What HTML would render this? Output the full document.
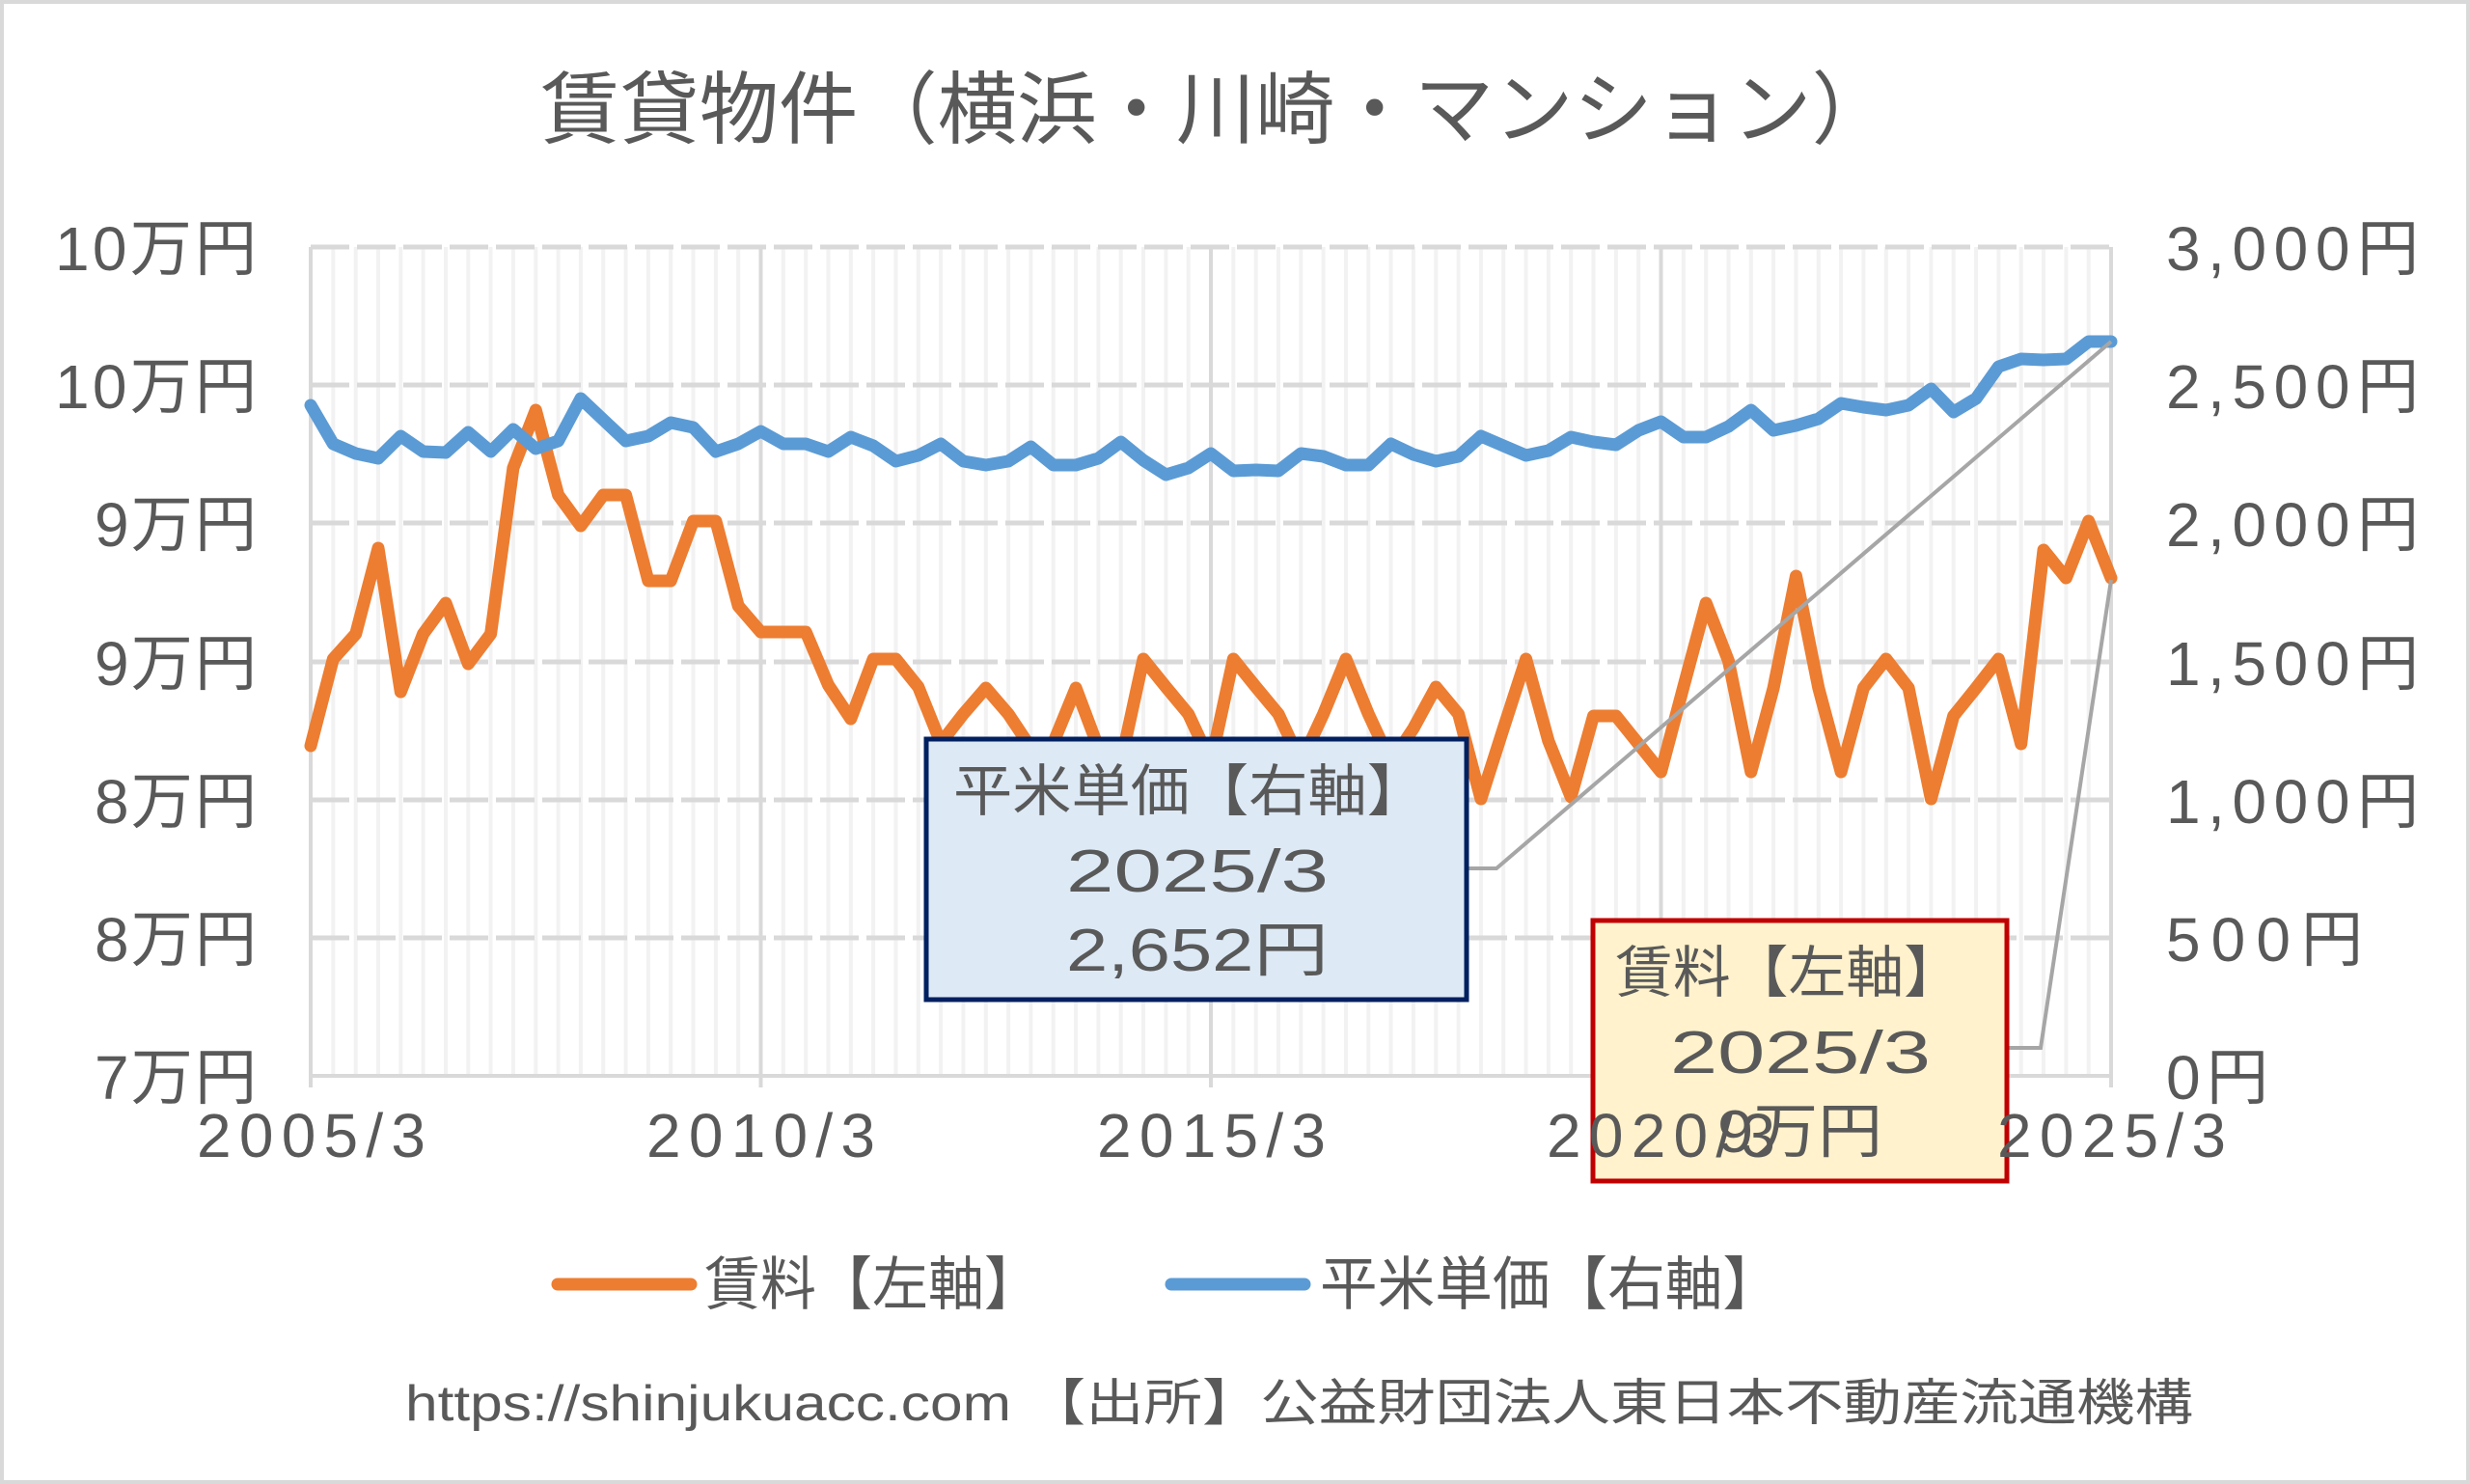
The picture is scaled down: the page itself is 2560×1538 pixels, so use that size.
<!DOCTYPE html>
<html><head><meta charset="utf-8"><style>
html,body{margin:0;padding:0;background:#fff}
svg{display:block}
text{font-family:"Liberation Sans","Noto Sans CJK JP",sans-serif;fill:#595959}
</style></head><body>
<svg width="2560" height="1538" viewBox="0 0 2560 1538" xmlns="http://www.w3.org/2000/svg">
<rect x="2" y="2" width="2556" height="1534" fill="#fff" stroke="#d9d9d9" stroke-width="4"/>
<text x="560" y="142" font-size="82" textLength="1400" lengthAdjust="spacingAndGlyphs">賃貸物件（横浜・川崎・マンション）</text>
<g stroke="#f2f2f2" stroke-width="4">
<path d="M345.3 256V1115M368.7 256V1115M392 256V1115M415.3 256V1115M438.6 256V1115M462 256V1115M485.3 256V1115M508.6 256V1115M531.9 256V1115M555.3 256V1115M578.6 256V1115M601.9 256V1115M625.2 256V1115M648.6 256V1115M671.9 256V1115M695.2 256V1115M718.5 256V1115M741.9 256V1115M765.2 256V1115M811.8 256V1115M835.2 256V1115M858.5 256V1115M881.8 256V1115M905.1 256V1115M928.5 256V1115M951.8 256V1115M975.1 256V1115M998.4 256V1115M1021.8 256V1115M1045.1 256V1115M1068.4 256V1115M1091.7 256V1115M1115.1 256V1115M1138.4 256V1115M1161.7 256V1115M1185 256V1115M1208.4 256V1115M1231.7 256V1115M1278.3 256V1115M1301.7 256V1115M1325 256V1115M1348.3 256V1115M1371.6 256V1115M1395 256V1115M1418.3 256V1115M1441.6 256V1115M1464.9 256V1115M1488.3 256V1115M1511.6 256V1115M1534.9 256V1115M1558.2 256V1115M1581.6 256V1115M1604.9 256V1115M1628.2 256V1115M1651.5 256V1115M1674.9 256V1115M1698.2 256V1115M1744.8 256V1115M1768.2 256V1115M1791.5 256V1115M1814.8 256V1115M1838.1 256V1115M1861.5 256V1115M1884.8 256V1115M1908.1 256V1115M1931.4 256V1115M1954.8 256V1115M1978.1 256V1115M2001.4 256V1115M2024.7 256V1115M2048.1 256V1115M2071.4 256V1115M2094.7 256V1115M2118 256V1115M2141.4 256V1115M2164.7 256V1115"/>
</g>
<g stroke="#d9d9d9" stroke-width="5" stroke-dasharray="40 8">
<path d="M322 256H2188M322 399H2188M322 542H2188M322 686H2188M322 829H2188M322 972H2188"/>
</g>
<g stroke="#d9d9d9" stroke-width="4">
<path d="M322 256V1127M788.5 256V1127M1255 256V1127M1721.5 256V1127M2188 256V1127M322 1115H2188"/>
</g>
<polyline fill="none" stroke="#ed7d31" stroke-width="13" stroke-linejoin="round" stroke-linecap="round" points="322,773 345.3,683 368.7,657 392,568 415.3,717 438.6,657 462,625 485.3,688 508.6,657 531.9,485 555.3,425 578.6,513 601.9,545 625.2,513 648.6,513 671.9,602 695.2,602 718.5,540 741.9,540 765.2,628 788.5,655 811.8,655 835.2,655 858.5,710 881.8,745 905.1,683 928.5,683 951.8,712 975.1,770 998.4,740 1021.8,713 1045.1,740 1068.4,775 1091.7,770 1115.1,713 1138.4,775 1161.7,790 1185,683 1208.4,712 1231.7,740 1255,790 1278.3,683 1301.7,712 1325,740 1348.3,790 1371.6,740 1395,683 1418.3,740 1441.6,790 1464.9,755 1488.3,712 1511.6,740 1534.9,828 1558.2,755 1581.6,683 1604.9,768 1628.2,826 1651.5,742 1674.9,742 1698.2,771 1721.5,800 1744.8,712 1768.2,625 1791.5,685 1814.8,800 1838.1,713 1861.5,597 1884.8,713 1908.1,800 1931.4,713 1954.8,683 1978.1,713 2001.4,828 2024.7,742 2048.1,713 2071.4,683 2094.7,771 2118,570 2141.4,599 2164.7,540 2188,599"/>
<polyline fill="none" stroke="#5b9bd5" stroke-width="13" stroke-linejoin="round" stroke-linecap="round" points="322,420 345.3,460 368.7,470 392,475 415.3,452 438.6,468 462,469 485.3,448 508.6,468 531.9,445 555.3,465 578.6,457 601.9,413 625.2,435 648.6,457 671.9,452 695.2,438 718.5,443 741.9,468 765.2,460 788.5,447 811.8,460 835.2,460 858.5,468 881.8,453 905.1,462 928.5,478 951.8,472 975.1,460 998.4,478 1021.8,482 1045.1,478 1068.4,463 1091.7,482 1115.1,482 1138.4,475 1161.7,458 1185,477 1208.4,492 1231.7,485 1255,470 1278.3,488 1301.7,487 1325,488 1348.3,470 1371.6,473 1395,482 1418.3,482 1441.6,460 1464.9,471 1488.3,478 1511.6,473 1534.9,452 1558.2,462 1581.6,472 1604.9,467 1628.2,453 1651.5,458 1674.9,461 1698.2,446 1721.5,437 1744.8,453 1768.2,453 1791.5,442 1814.8,425 1838.1,446 1861.5,441 1884.8,434 1908.1,418 1931.4,422 1954.8,425 1978.1,420 2001.4,403 2024.7,427 2048.1,413 2071.4,380 2094.7,372 2118,373 2141.4,372 2164.7,354 2188,354"/>
<polyline fill="none" stroke="#a6a6a6" stroke-width="4" points="1522,900 1551,900 2188,354"/>
<polyline fill="none" stroke="#a6a6a6" stroke-width="4" points="2082,1086 2115,1086 2188,601"/>
<rect x="960" y="766" width="560" height="270" fill="#dde9f5" stroke="#002060" stroke-width="5"/>
<text x="988" y="840" font-size="58" textLength="490" lengthAdjust="spacingAndGlyphs">平米単価【右軸】</text>
<text x="1105" y="924" font-size="62" textLength="272" lengthAdjust="spacingAndGlyphs">2025/3</text>
<text x="1105" y="1006" font-size="62" textLength="272" lengthAdjust="spacingAndGlyphs">2,652円</text>
<rect x="1651" y="954" width="429" height="270" fill="#fff2cc" stroke="#c00000" stroke-width="5"/>
<text x="1674" y="1028" font-size="58" textLength="359" lengthAdjust="spacingAndGlyphs">賃料【左軸】</text>
<text x="1731" y="1112" font-size="62" textLength="270" lengthAdjust="spacingAndGlyphs">2025/3</text>
<text x="1780" y="1194" font-size="62" textLength="171" lengthAdjust="spacingAndGlyphs">9万円</text>
<g font-size="64" lengthAdjust="spacingAndGlyphs">
<text x="57" y="280" textLength="209">10万円</text>
<text x="57" y="423" textLength="209">10万円</text>
<text x="98" y="566" textLength="168">9万円</text>
<text x="98" y="710" textLength="168">9万円</text>
<text x="98" y="853" textLength="168">8万円</text>
<text x="98" y="996" textLength="168">8万円</text>
<text x="98" y="1139" textLength="168">7万円</text>
</g>
<g font-size="64" lengthAdjust="spacingAndGlyphs">
<text x="2245" y="280" textLength="262">3,000円</text>
<text x="2245" y="423" textLength="262">2,500円</text>
<text x="2245" y="566" textLength="262">2,000円</text>
<text x="2245" y="710" textLength="262">1,500円</text>
<text x="2245" y="853" textLength="262">1,000円</text>
<text x="2245" y="996" textLength="204">500円</text>
<text x="2245" y="1139" textLength="106">0円</text>
</g>
<g font-size="64" lengthAdjust="spacingAndGlyphs">
<text x="204" y="1199" textLength="237">2005/3</text>
<text x="670" y="1199" textLength="237">2010/3</text>
<text x="1137" y="1199" textLength="237">2015/3</text>
<text x="1603" y="1199" textLength="237">2020/3</text>
<text x="2070" y="1199" textLength="237">2025/3</text>
</g>
<line x1="578" y1="1331" x2="716" y2="1331" stroke="#ed7d31" stroke-width="13" stroke-linecap="round"/>
<text x="730" y="1352" font-size="60" textLength="348" lengthAdjust="spacingAndGlyphs">賃料【左軸】</text>
<line x1="1214" y1="1331" x2="1352" y2="1331" stroke="#5b9bd5" stroke-width="13" stroke-linecap="round"/>
<text x="1368" y="1352" font-size="60" textLength="477" lengthAdjust="spacingAndGlyphs">平米単価【右軸】</text>
<text x="420" y="1472" font-size="52" textLength="1853" lengthAdjust="spacingAndGlyphs">https://shinjukuacc.com 【出所】公益財団法人東日本不動産流通機構</text>
</svg>
</body></html>
